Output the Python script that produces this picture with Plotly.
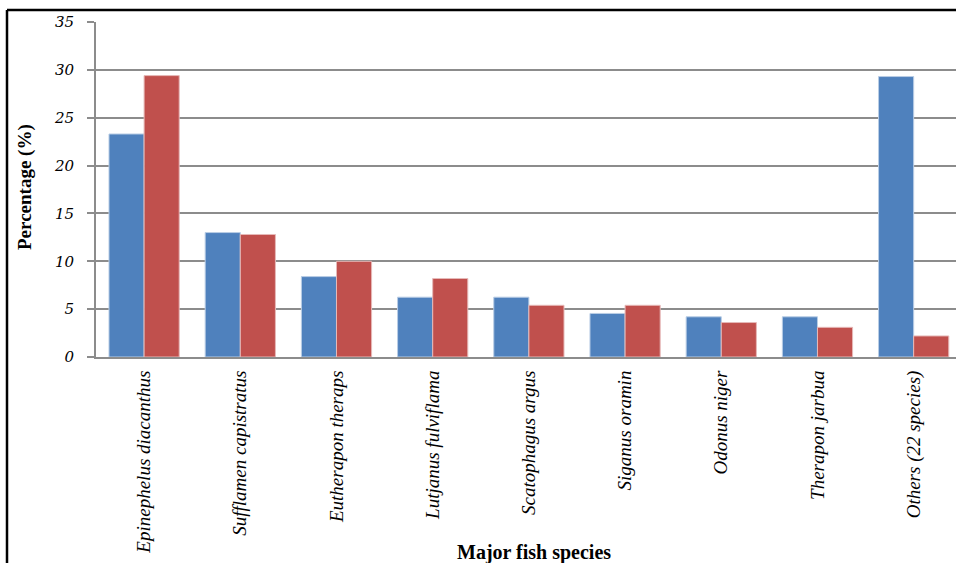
import plotly.graph_objects as go

species = ["Epinephelus diacanthus", "Sufflamen capistratus", "Eutherapon theraps",
           "Lutjanus fulviflama", "Scatophagus argus", "Siganus oramin",
           "Odonus niger", "Therapon jarbua", "Others (22 species)"]
series_blue = [23.3, 13.0, 8.4, 6.25, 6.25, 4.55, 4.2, 4.2, 29.3]
series_red = [29.4, 12.8, 10.0, 8.2, 5.4, 5.4, 3.6, 3.1, 2.2]
y_ticks = [0, 5, 10, 15, 20, 25, 30, 35]

PL, PR, PT, PB = 96, 956, 22, 357  # plot area in pixels
W, H = 956, 563

def px(x):
    return (x - PL) / (PR - PL)

def py(y):
    return (PB - y) / (PB - PT)

fig = go.Figure()
fig.add_trace(go.Bar(x=species, y=series_blue,
                     marker=dict(color="#4F81BD", line=dict(color="#B9CDE5", width=1)), showlegend=False))
fig.add_trace(go.Bar(x=species, y=series_red,
                     marker=dict(color="#C0504D", line=dict(color="#E6B9B8", width=1)), showlegend=False))

fig.update_layout(
    width=W, height=H,
    margin=dict(l=PL, r=W - PR, t=PT, b=H - PB, autoexpand=False),
    paper_bgcolor="white", plot_bgcolor="white",
    barmode="group", bargap=0.27, bargroupgap=0,
    font=dict(family="Liberation Serif", color="black"),
    xaxis=dict(range=[-0.5, 8.44], tickangle=-90, showgrid=False, automargin=False,
               tickfont=dict(family="Liberation Serif", size=19, style="italic", color="black"),
               showline=True, linecolor="#8C8C8C", linewidth=2, ticks="", ticklabelstandoff=4),
    yaxis=dict(range=[0, 35], tickvals=y_ticks, showgrid=True, gridcolor="#8C8C8C", gridwidth=1.5,
               automargin=False,
               tickfont=dict(family="DejaVu Serif", size=15, style="italic", color="black"),
               showline=True, linecolor="#8C8C8C", linewidth=2, ticks="outside", ticklen=7,
               tickcolor="#8C8C8C", tickwidth=1.5, zeroline=False, ticklabelstandoff=10),
    annotations=[
        dict(text="<b>Percentage (%)</b>", xref="paper", yref="paper", x=px(25), y=py(187),
             textangle=-90, showarrow=False, font=dict(family="Liberation Serif", size=19, color="black"),
             xanchor="center", yanchor="middle"),
        dict(text="<b>Major fish species</b>", xref="paper", yref="paper", x=px(534), y=py(552),
             showarrow=False, font=dict(family="Liberation Serif", size=20, color="black"),
             xanchor="center", yanchor="middle"),
    ],
    shapes=[
        dict(type="line", xref="paper", yref="paper", x0=px(7), x1=1.05, y0=py(10), y1=py(10),
             line=dict(color="black", width=2.5)),
        dict(type="line", xref="paper", yref="paper", x0=px(7), x1=px(7), y0=py(10), y1=py(580),
             line=dict(color="black", width=2.5)),
    ],
)

fig.write_html("out.html", config={"displayModeBar": False},
               post_script="document.body.style.margin='0';document.body.style.overflow='hidden';")
